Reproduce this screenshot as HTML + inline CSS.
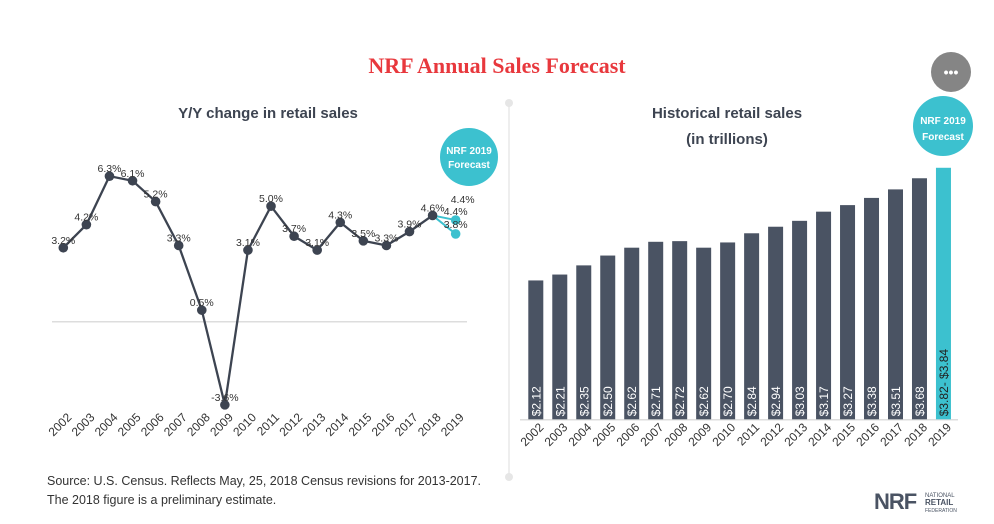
<!DOCTYPE html>
<html><head><meta charset="utf-8"><style>
body{margin:0;background:#fff;width:994px;height:524px;overflow:hidden;font-family:"Liberation Sans",sans-serif}
svg{display:block}
</style></head><body>
<svg id="s" width="994" height="524" xmlns="http://www.w3.org/2000/svg">
<text x="497" y="73" text-anchor="middle" font-family="Liberation Serif,serif" font-weight="bold" font-size="22" fill="#e8383d">NRF Annual Sales Forecast</text>
<circle cx="951" cy="72" r="20" fill="#858585"/>
<text x="951" y="77" text-anchor="middle" font-size="14" font-weight="bold" fill="#fff">•••</text>
<text x="268" y="118" text-anchor="middle" font-size="15" font-weight="bold" fill="#3d4451">Y/Y change in retail sales</text>
<text x="727" y="118" text-anchor="middle" font-size="15" font-weight="bold" fill="#3d4451">Historical retail sales</text>
<text x="727" y="144" text-anchor="middle" font-size="15" font-weight="bold" fill="#3d4451">(in trillions)</text>
<circle cx="469" cy="157" r="29" fill="#3cc1cf"/>
<text x="469" y="154" text-anchor="middle" font-size="10" font-weight="bold" fill="#fff">NRF 2019</text>
<text x="469" y="168" text-anchor="middle" font-size="10" font-weight="bold" fill="#fff">Forecast</text>
<circle cx="943" cy="126" r="30" fill="#3cc1cf"/>
<text x="943" y="124" text-anchor="middle" font-size="10" font-weight="bold" fill="#fff">NRF 2019</text>
<text x="943" y="140" text-anchor="middle" font-size="10" font-weight="bold" fill="#fff">Forecast</text>
<line x1="509" y1="103" x2="509" y2="477" stroke="#eee" stroke-width="2"/>
<circle cx="509" cy="103" r="4" fill="#e6e6e6"/>
<circle cx="509" cy="477" r="4" fill="#e6e6e6"/>
<text x="47" y="485" font-size="12.5" fill="#333">Source: U.S. Census. Reflects May, 25, 2018 Census revisions for 2013-2017.</text>
<text x="47" y="504" font-size="12.5" fill="#333">The 2018 figure is a preliminary estimate.</text>
<g>
<text x="874" y="509" font-size="22" font-weight="bold" fill="#4a5363" letter-spacing="-1">NRF</text>
<text x="925" y="497" font-size="6" fill="#4a5363">NATIONAL</text>
<text x="925" y="505" font-size="8" font-weight="bold" fill="#4a5363">RETAIL</text>
<text x="925" y="512" font-size="5" fill="#4a5363">FEDERATION</text>
</g>
<g id="line"></g><g id="bars"></g>
</svg>
<script>
const years=["2002","2003","2004","2005","2006","2007","2008","2009","2010","2011","2012","2013","2014","2015","2016","2017","2018","2019"];
const yoy=[3.2,4.2,6.3,6.1,5.2,3.3,0.5,-3.6,3.1,5.0,3.7,3.1,4.3,3.5,3.3,3.9,4.6];
const yoyLabels=["3.2%","4.2%","6.3%","6.1%","5.2%","3.3%","0.5%","-3.6%","3.1%","5.0%","3.7%","3.1%","4.3%","3.5%","3.3%","3.9%","4.6%"];
const forecastHigh=4.4;
const forecastLow=3.8;
const sales=[2.12,2.21,2.35,2.50,2.62,2.71,2.72,2.62,2.70,2.84,2.94,3.03,3.17,3.27,3.38,3.51,3.68,3.84];
const salesLabels=["$2.12","$2.21","$2.35","$2.50","$2.62","$2.71","$2.72","$2.62","$2.70","$2.84","$2.94","$3.03","$3.17","$3.27","$3.38","$3.51","$3.68","$3.82- $3.84"];
const NS="http://www.w3.org/2000/svg";
function mk(p,t,a,txt){const e=document.createElementNS(NS,t);for(const k in a)e.setAttribute(k,a[k]);if(txt!==undefined)e.textContent=txt;p.appendChild(e);return e;}
const lx=i=>63.3+i*23.08, ly=v=>321.7-v*23.1;
const L=document.getElementById('line');
let z=mk(L,'line',{x1:52,x2:467,y1:ly(0),y2:ly(0),stroke:'#ddd','stroke-width':1.5});


let n=yoy.length;
let f1=mk(L,'line',{x1:lx(n-1),y1:ly(yoy[n-1]),x2:lx(n),y2:ly(forecastHigh),stroke:'#3cc1cf','stroke-width':2});


let f2=mk(L,'line',{x1:lx(n-1),y1:ly(yoy[n-1]),x2:lx(n),y2:ly(forecastLow),stroke:'#3cc1cf','stroke-width':2});


let pl=mk(L,'polyline',{points:yoy.map((v,i)=>lx(i)+','+ly(v)).join(' '),fill:'none',stroke:'#3d4451','stroke-width':2.3});


yoy.forEach((v,i)=>{
 const c=mk(L,'circle',{cx:lx(i),cy:ly(v),r:4.8,fill:'#3d4451'});
 
 
 const t=mk(L,'text',{x:lx(i),y:ly(v)-4,'text-anchor':'middle','font-size':10.5,fill:'#333'},yoyLabels[i]);
 
 
});
[[forecastHigh,'high'],[forecastLow,'low']].forEach(([v,k])=>{
 const c=mk(L,'circle',{cx:lx(n),cy:ly(v),r:4.8,fill:'#3cc1cf'});
 
 
});
let t1=mk(L,'text',{x:lx(n)+7,y:ly(forecastHigh)-17,'text-anchor':'middle','font-size':10.5,fill:'#333'},forecastHigh.toFixed(1)+'%');


let t2=mk(L,'text',{x:lx(n),y:ly(forecastHigh)-5,'text-anchor':'middle','font-size':10.5,fill:'#333'},forecastHigh.toFixed(1)+'%');


let t3=mk(L,'text',{x:lx(n),y:ly(forecastLow)-6,'text-anchor':'middle','font-size':10.5,fill:'#333'},forecastLow.toFixed(1)+'%');


years.forEach((y,i)=>{
 const x=lx(i)+9;
 const t=mk(L,'text',{x:x,y:418,'text-anchor':'end','font-size':12,fill:'#333',transform:`rotate(-45 ${x} 418)`},y);
 
 
});
const B=document.getElementById('bars');
const bx=i=>528.3+i*23.98, base=419.3, sc=65.5;
let ax=mk(B,'line',{x1:520,x2:958,y1:base+0.5,y2:base+0.5,stroke:'#ddd','stroke-width':1.5});


sales.forEach((v,i)=>{
 const last=i===sales.length-1;
 const h=v*sc;
 const r=mk(B,'rect',{x:bx(i),y:base-h,width:15,height:h,fill:last?'#3cc1cf':'#4a5363'});
 
 
 const cx=bx(i)+12, cy=base-3;
 const t=mk(B,'text',{x:cx,y:cy,'font-size':12,fill:last?'#222':'#fff',transform:`rotate(-90 ${cx} ${cy})`},salesLabels[i]);
 
 
 const yx=bx(i)+16;
 const yt=mk(B,'text',{x:yx,y:428,'text-anchor':'end','font-size':12,fill:'#333',transform:`rotate(-45 ${yx} 428)`},years[i]);
 
 
});
</script>
</body></html>
